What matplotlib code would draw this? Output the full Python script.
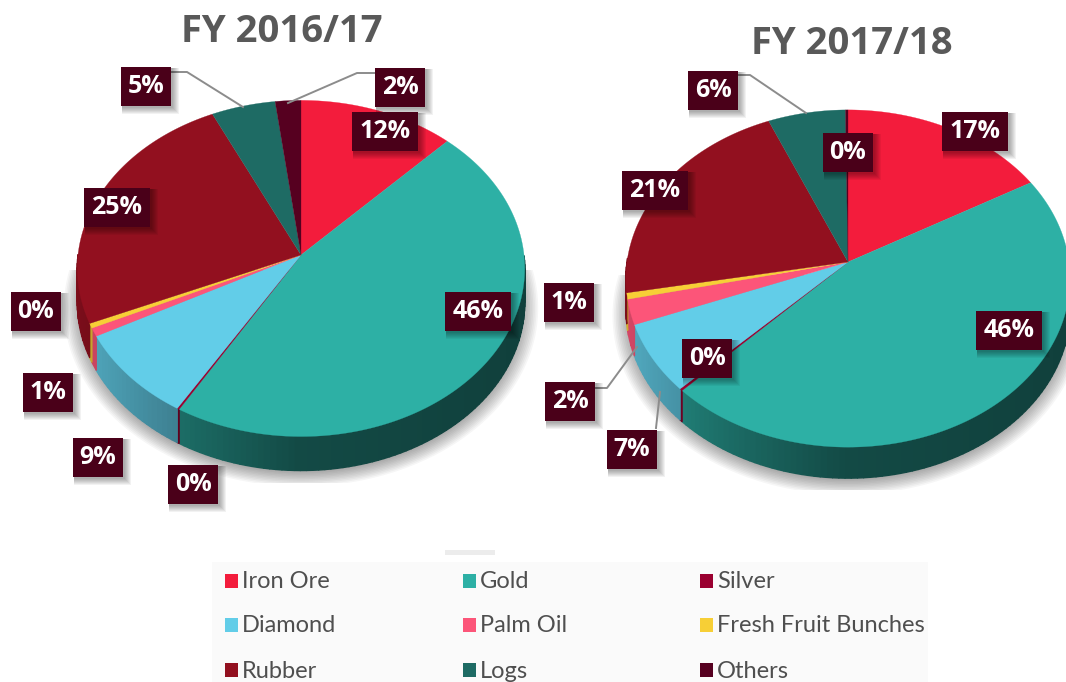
import numpy as np
import matplotlib.pyplot as plt
from matplotlib.collections import PolyCollection
from matplotlib.colors import to_rgb
from matplotlib.patches import Polygon, Rectangle

# --- Data ---
categories = ["Iron Ore", "Gold", "Silver", "Diamond", "Palm Oil",
              "Fresh Fruit Bunches", "Rubber", "Logs", "Others"]
titles = ["FY 2016/17", "FY 2017/18"]
values_1617 = [12.2, 46.3, 0.15, 8.6, 0.8, 0.45, 24.5, 5.0, 2.0]
values_1718 = [16.7, 45.6, 0.2, 6.6, 2.4, 0.6, 21.5, 6.2, 0.2]
labels_1617 = ["12%", "46%", "0%", "9%", "1%", "0%", "25%", "5%", "2%"]
labels_1718 = ["17%", "46%", "0%", "7%", "2%", "1%", "21%", "6%", "0%"]

# --- Style / layout ---
colors = ["#f31c3c", "#2db0a5", "#9a0030", "#62cde8", "#fc5579",
          "#f7cf36", "#92101f", "#1e6b64", "#560020"]
box_color = "#4a0019"
W, H = 1066, 682

pie_1617 = dict(cx=301, cy=255, a=223, b=167, k=0.08, depth=34)
pie_1718 = dict(cx=848, cy=262, a=221, b=167, k=0.098, depth=31)

# label box centres, same order as categories
boxes_1617 = [(385, 131), (478, 311), (193, 484), (98, 457), (48, 392),
              (36, 311), (117, 207), (146, 86), (400, 87)]
boxes_1718 = [(975, 131), (1009, 330), (707, 358), (632, 449), (570, 401),
              (569, 302), (655, 190), (713, 90), (848, 152)]

leaders_1617 = [[(171, 72), (187, 72), (243, 107)],
                [(375, 73), (357, 73), (288, 103)]]
leaders_1718 = [[(738, 75), (750, 75), (806, 113)],
                [(595, 388), (607, 388), (637, 347)],
                [(656, 428), (660, 392)]]

legend_x = [225, 463, 700]
legend_y = [581, 625, 670]


def project(theta, p, scale=1.0):
    # theta clockwise from 12 o'clock, simple perspective tilt
    u, v = np.sin(theta) * scale, np.cos(theta) * scale
    w = 1 + p["k"] * v
    return p["cx"] + p["a"] * u / w, p["cy"] - p["b"] * v / w


def draw_shadow(ax, p, clip):
    t = np.linspace(0, 2 * np.pi, 200)
    for s in np.linspace(1.06, 0.98, 12):
        x, y = project(t, p, s)
        poly = Polygon(np.c_[x, y + p["depth"] + 4], fc="black", alpha=0.035, lw=0)
        ax.add_patch(poly)
        poly.set_clip_path(Rectangle(clip[:2], clip[2], clip[3], transform=ax.transData))


def draw_pie(ax, values, p):
    edges = np.cumsum([0] + list(values)) / sum(values) * 2 * np.pi

    # side wall first, only the front part shows
    quads, shades = [], []
    for i in range(len(values)):
        n = max(2, int((edges[i + 1] - edges[i]) * 40))
        t = np.linspace(edges[i], edges[i + 1], n)
        x, y = project(t, p)
        for j in range(n - 1):
            if np.cos(t[j]) > 0.0:
                continue
            quads.append([(x[j], y[j]), (x[j + 1], y[j + 1]),
                          (x[j + 1], y[j + 1] + p["depth"]), (x[j], y[j] + p["depth"])])
            shade = np.interp(np.sin(t[j]), [-1, -0.5, 0, 1], [0.85, 0.62, 0.42, 0.36])
            shades.append(tuple(c * shade for c in to_rgb(colors[i])))
    ax.add_collection(PolyCollection(quads, facecolors=shades, edgecolors=shades, linewidths=1.0))

    # top face
    for i in range(len(values)):
        n = max(2, int((edges[i + 1] - edges[i]) * 60))
        x, y = project(np.linspace(edges[i], edges[i + 1], n), p)
        pts = np.r_[[(p["cx"], p["cy"])], np.c_[x, y]]
        ax.add_patch(Polygon(pts, fc=colors[i], ec=colors[i], lw=0.2))


def draw_box(ax, xy, text):
    x, y = xy
    w = 66 if len(text) > 2 else 50
    for o in range(1, 8):
        ax.add_patch(Rectangle((x - w / 2 + 1, y - 19.5 + 1), w + o, 39 + o,
                               fc="black", alpha=0.05, lw=0, zorder=5))
    ax.add_patch(Rectangle((x - w / 2, y - 19.5), w, 39, fc=box_color, lw=0, zorder=6))
    ax.text(x, y + 0.5, text, color="white", fontsize=18, fontweight="bold",
            family="Open Sans", ha="center", va="center", zorder=7)


fig = plt.figure(figsize=(W / 100, H / 100), dpi=100)
ax = fig.add_axes([0, 0, 1, 1])
ax.set_xlim(0, W)
ax.set_ylim(H, 0)
ax.axis("off")

draw_shadow(ax, pie_1617, (62, 270, 478, 213))
draw_shadow(ax, pie_1718, (611, 275, 455, 215))
draw_pie(ax, values_1617, pie_1617)
draw_pie(ax, values_1718, pie_1718)

for pts in leaders_1617 + leaders_1718:
    xs, ys = zip(*pts)
    ax.plot(xs, ys, color="#8c8c8c", lw=1.4, zorder=4)

for xy, text in zip(boxes_1617, labels_1617):
    draw_box(ax, xy, text)
for xy, text in zip(boxes_1718, labels_1718):
    draw_box(ax, xy, text)

ax.text(282, 32, titles[0], color="#595959", fontsize=27.5, fontweight="bold",
        family="Open Sans", ha="center", va="center")
ax.text(852, 44, titles[1], color="#595959", fontsize=27.5, fontweight="bold",
        family="Open Sans", ha="center", va="center")

# legend
ax.add_patch(Rectangle((212, 562), 716, 120, fc="#fafafa", lw=0))
ax.add_patch(Rectangle((445, 550), 50, 5, fc="#ececec", lw=0))
for i, name in enumerate(categories):
    row, col = i // 3, i % 3
    ax.add_patch(Rectangle((legend_x[col], legend_y[row] - 7), 13, 14, fc=colors[i], lw=0))
    ax.text(legend_x[col] + 17, legend_y[row] + 1, name, color="#4f4f4f", fontsize=17,
            family="Lato", ha="left", va="center")

fig.savefig("out.png", dpi=100)
